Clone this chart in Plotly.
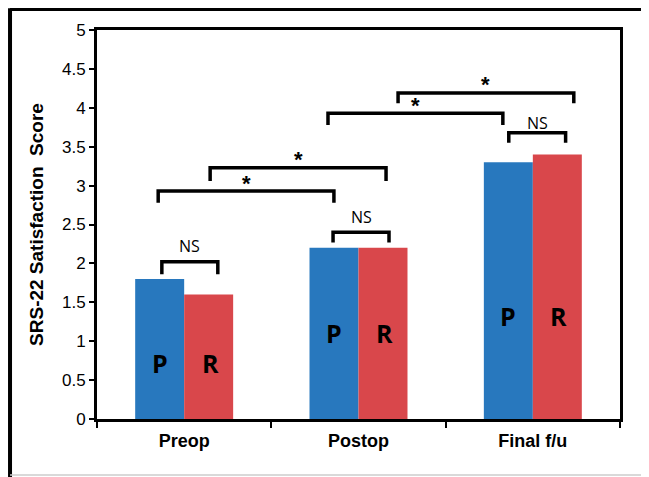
import plotly.graph_objects as go

categories = ["Preop", "Postop", "Final f/u"]
p_values = [1.8, 2.2, 3.3]
r_values = [1.6, 2.2, 3.4]
y_ticks = [0, 0.5, 1, 1.5, 2, 2.5, 3, 3.5, 4, 4.5, 5]
y_tick_labels = ["0", "0.5", "1", "1.5", "2", "2.5", "3", "3.5", "4", "4.5", "5"]
bar_letters = ["P", "R"]
letter_heights = [0.72, 1.10, 1.32]

# significance brackets: (x0, x1, y_top, y_leg_bottom, label, label_y)
brackets = [
    (-0.128, 0.193, 2.02, 1.86, "NS", 2.22),
    (0.854, 1.175, 2.40, 2.27, "NS", 2.60),
    (1.862, 2.188, 3.68, 3.55, "NS", 3.80),
    (-0.149, 0.859, 2.93, 2.78, "*", 3.03),
    (0.149, 1.158, 3.23, 3.06, "*", 3.33),
    (0.825, 1.828, 3.93, 3.78, "*", 4.03),
    (1.227, 2.235, 4.19, 4.06, "*", 4.30),
]

BLUE = "#2878BE"
RED = "#D9474B"

fig = go.Figure()
fig.add_trace(go.Bar(x=categories, y=p_values, name="P", marker=dict(color=BLUE, line=dict(width=0))))
fig.add_trace(go.Bar(x=categories, y=r_values, name="R", marker=dict(color=RED, line=dict(width=0))))

shapes = []
annotations = []
for x0, x1, yt, yb, lab, ly in brackets:
    shapes.append(dict(type="path", xref="x", yref="y",
                       path=f"M {x0},{yb} L {x0},{yt} L {x1},{yt} L {x1},{yb}",
                       line=dict(color="black", width=3.5)))
    if lab == "NS":
        annotations.append(dict(x=(x0 + x1) / 2, y=ly, xref="x", yref="y", text=lab,
                                showarrow=False, yanchor="middle",
                                font=dict(family="Open Sans", size=16, color="black")))
    else:
        annotations.append(dict(x=(x0 + x1) / 2, y=ly, xref="x", yref="y", text="<b>*</b>",
                                showarrow=False, yanchor="middle",
                                font=dict(family="Liberation Sans", size=22, color="black")))

for i, h in enumerate(letter_heights):
    for j, letter in enumerate(bar_letters):
        annotations.append(dict(x=i + (-0.14 if j == 0 else 0.15), y=h,
                                xref="x", yref="y", text=f"<b>{letter}</b>",
                                showarrow=False, yanchor="middle",
                                font=dict(family="Open Sans", size=25, color="black")))

# outer frame of the figure
shapes.append(dict(type="line", xref="paper", yref="paper", x0=-0.1663, x1=1.08, y0=1.0527, y1=1.0527,
                   line=dict(color="black", width=3)))
shapes.append(dict(type="line", xref="paper", yref="paper", x0=-0.1663, x1=-0.1663, y0=1.056, y1=-0.17,
                   line=dict(color="black", width=4)))
shapes.append(dict(type="line", xref="paper", yref="paper", x0=-0.1663, x1=1.08, y0=-0.144, y1=-0.144,
                   line=dict(color="#cccccc", width=1.5)))

fig.update_layout(
    width=649, height=477,
    margin=dict(l=89, r=37, t=22, b=66),
    paper_bgcolor="white", plot_bgcolor="white",
    barmode="group", bargap=0.438, bargroupgap=0,
    showlegend=False,
    shapes=shapes, annotations=annotations,
    font=dict(family="Liberation Sans", color="black"),
)
fig.update_xaxes(
    type="category", tickson="boundaries", ticks="outside", ticklen=6, tickwidth=2,
    tickcolor="black", showline=True, linewidth=3, linecolor="black", mirror=True,
    showgrid=False, tickfont=dict(family="Liberation Sans", size=18, color="black"),
    tickprefix="<b>", ticksuffix="</b>", ticklabelstandoff=3,
)
fig.update_yaxes(
    range=[0, 5], tickvals=y_ticks, ticktext=y_tick_labels,
    ticks="outside", ticklen=5, tickwidth=2, tickcolor="black",
    showline=True, linewidth=3, linecolor="black", mirror=True,
    showgrid=False, zeroline=False,
    tickfont=dict(family="Liberation Sans", size=17, color="black"),
    title=dict(text="<b>SRS-22 Satisfaction  Score</b>", standoff=14,
               font=dict(family="Liberation Sans", size=19, color="black")),
)

fig.write_html("out.html")
